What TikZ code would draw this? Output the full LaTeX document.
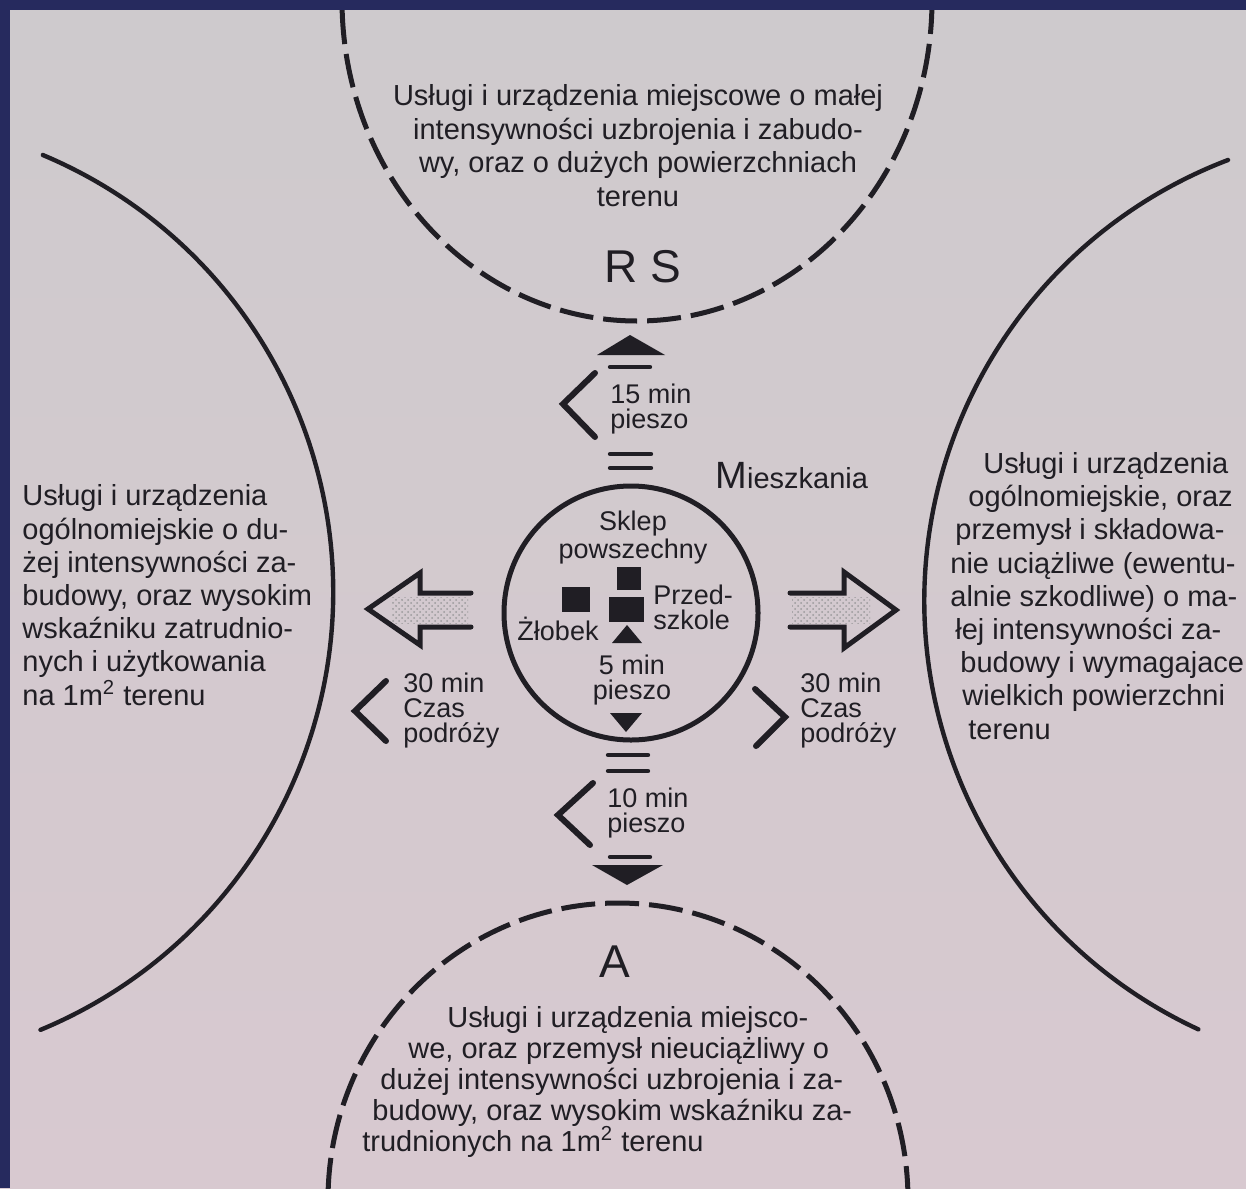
\documentclass[tikz,border=0pt]{standalone}
\usepackage{fontspec}
\setmainfont{Liberation Sans}
\usetikzlibrary{patterns}

\definecolor{paper}{RGB}{216,201,208}
\definecolor{paperlight}{RGB}{206,202,205}
\definecolor{ink}{RGB}{32,30,36}
\definecolor{frame}{RGB}{38,42,94}

\begin{document}
\begin{tikzpicture}[x=0.5pt, y=-0.5pt, line cap=round,
  txt/.style={font=\fontsize{14.5}{#1}\selectfont, inner sep=0pt, text=ink},
  txt/.default=16.6,
  lbl/.style={font=\fontsize{13.5}{12.5}\selectfont, inner sep=0pt, align=left, text=ink},
  big/.style={font=\fontsize{23}{23}\selectfont, inner sep=0pt, text=ink},
  zone/.style={draw=ink, line width=2.2pt},
  dashzone/.style={draw=ink, line width=2.5pt, line cap=butt, dash pattern=on 17pt off 5pt},
  chev/.style={draw=ink, line width=3pt, line join=miter},
  bar/.style={draw=ink, line width=2.2pt},
  blk/.style={fill=ink},
  hollow/.style={draw=ink, line width=2.5pt, line join=miter},
  stipple/.style={pattern=crosshatch dots, pattern color=ink!45}]

\fill[top color=paperlight, bottom color=paper] (0,0) rectangle (1246,1188);
\useasboundingbox (0,0) rectangle (1246,1188);

\draw[zone] (42.8,155) arc[start angle=-67.2, end angle=67.5, radius=474];
\draw[zone] (1228,160) arc[start angle=249.1, end angle=114.8, radius=472];
\draw[dashzone] (932,0) arc[start angle=0, end angle=180, x radius=295, y radius=321];
\draw[dashzone] (908,1200) arc[start angle=0, end angle=-180, x radius=290, y radius=297];
\draw[draw=ink, line width=2.5pt] (631,613) circle[radius=127];

\node[txt=16.75, align=center, anchor=base] (rsdesc) at (638,206) {Usługi i urządzenia miejscowe o małej\\intensywności uzbrojenia i zabudo-\\wy, oraz o dużych powierzchniach\\terenu};
\node[big, anchor=base] (rs) at (643,282) {R S};

\fill[blk] (630,335) -- (665,355) -- (597,355) -- cycle;
\draw[bar] (610,367) -- (650,367);
\draw[chev] (595,373) -- (563,404) -- (595,437);
\node[lbl, anchor=base west] (walk15) at (610,428) {15 min\\pieszo};
\draw[bar] (610,454) -- (651,454);
\draw[bar] (610,468) -- (651,468);

\node[txt, anchor=base west] (mieszkania) at (715,488) {{\fontsize{19}{19}\selectfont M}ieszkania};

\node[lbl, align=center, anchor=base] (sklep) at (633,558) {Sklep\\powszechny};
\fill[blk] (617,567) rectangle (641,590);
\fill[blk] (562,587) rectangle (590,612);
\fill[blk] (609,597) rectangle (644,622);
\fill[blk] (627,625) -- (642,643) -- (612,643) -- cycle;
\node[lbl, anchor=base west] (przedszkole) at (653,629) {Przed-\\szkole};
\node[lbl, anchor=base] (zlobek) at (558,640) {Żłobek};
\node[lbl, align=center, anchor=base] (walk5) at (632,699) {5 min\\pieszo};
\fill[blk] (610,713) -- (642,713) -- (626,732) -- cycle;

\fill[stipple] (392,597) rectangle (468,623);
\draw[hollow] (471,593) -- (420,593) -- (420,573) -- (368,609) -- (420,645) -- (420,627) -- (471,627);
\fill[stipple] (792,597) rectangle (870,623);
\draw[hollow] (790,593) -- (844,593) -- (844,572) -- (896,610) -- (844,648) -- (844,627) -- (790,627);

\draw[chev] (386,681) -- (355,711) -- (386,741);
\node[lbl, anchor=base west] (travelw) at (403,742) {30 min\\Czas\\podróży};
\draw[chev] (755,689) -- (785,717) -- (756,746);
\node[lbl, anchor=base west] (travele) at (800,742) {30 min\\Czas\\podróży};

\node[txt, align=left, anchor=base west] (citywest) at (22,705) {Usługi i urządzenia\\ogólnomiejskie o du-\\żej intensywności za-\\budowy, oraz wysokim\\wskaźniku zatrudnio-\\nych i użytkowania\\na 1m\textsuperscript{2} terenu};
\node[txt, align=left, anchor=base west] (cityeast) at (950,739) {\hspace*{16.5pt}Usługi i urządzenia\\\hspace*{9pt}ogólnomiejskie, oraz\\\hspace*{2.5pt}przemysł i składowa-\\nie uciążliwe (ewentu-\\alnie szkodliwe) o ma-\\\hspace*{2.5pt}łej intensywności za-\\\hspace*{5pt}budowy i wymagajace\\\hspace*{6pt}wielkich powierzchni\\\hspace*{9pt}terenu};

\draw[bar] (608,755) -- (648,755);
\draw[bar] (608,771) -- (648,771);
\draw[chev] (593,783) -- (558,815) -- (590,845);
\node[lbl, anchor=base west] (walk10) at (607,832) {10 min\\pieszo};
\draw[bar] (610,857) -- (650,857);
\fill[blk] (592,865) -- (663,865) -- (627,885) -- cycle;

\node[big, anchor=base] (a) at (615,977) {A};
\node[txt=15.4, align=left, anchor=base west] (adesc) at (362,1151) {\hspace*{42.5pt}Usługi i urządzenia miejsco-\\\hspace*{23pt}we, oraz przemysł nieuciążliwy o\\\hspace*{9pt}dużej intensywności uzbrojenia i za-\\\hspace*{5pt}budowy, oraz wysokim wskaźniku za-\\trudnionych na 1m\textsuperscript{2} terenu};

\fill[frame] (0,0) rectangle (1246,10);
\fill[frame] (0,0) rectangle (10,1188);
\end{tikzpicture}
\end{document}
